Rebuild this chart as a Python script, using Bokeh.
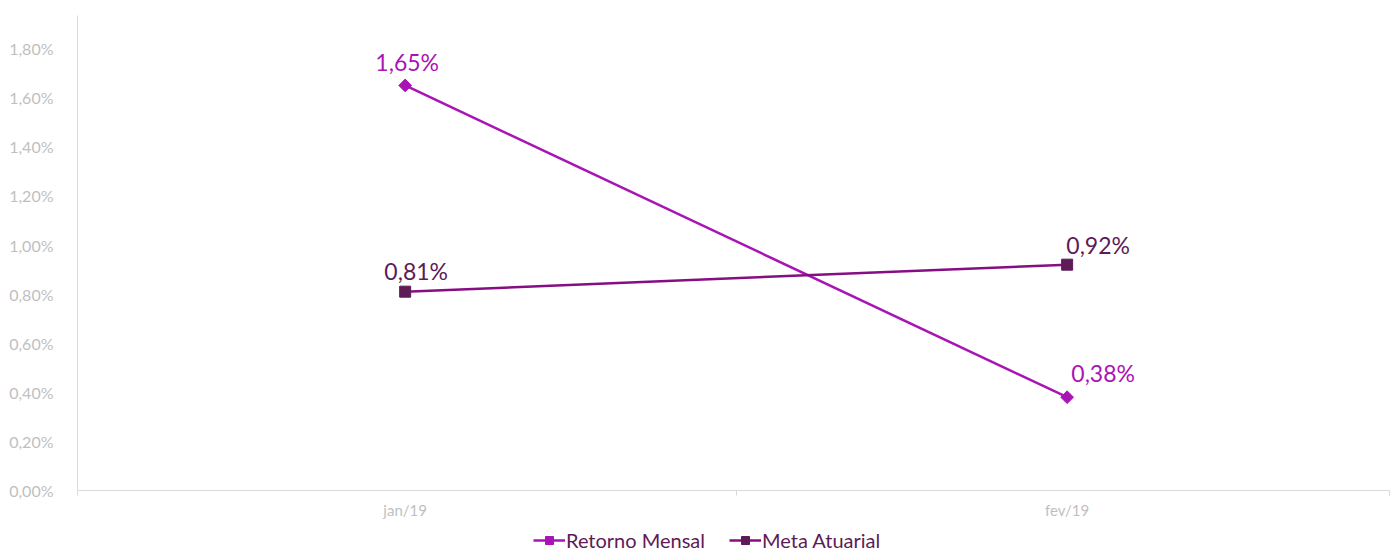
from bokeh.plotting import figure
from bokeh.layouts import column
from bokeh.models import ColumnDataSource, FixedTicker, Range1d, Legend, LegendItem, CustomJSTickFormatter
from bokeh.core.properties import value
from bokeh.embed import file_html
from bokeh.resources import INLINE

categories = ["jan/19", "fev/19"]
retorno = [1.65, 0.38]
meta = [0.81, 0.92]
retorno_labels = ["1,65%", "0,38%"]
meta_labels = ["0,81%", "0,92%"]
series_names = ["Retorno Mensal", "Meta Atuarial"]
y_ticks = [0.0, 0.2, 0.4, 0.6, 0.8, 1.0, 1.2, 1.4, 1.6, 1.8]

xs = [0.5, 1.5]
C_RET = "#A914B5"
C_META_LINE = "#860E82"
C_META_MK = "#5E1B56"
C_TEXT = "#5E1B56"

p = figure(width=1390, height=522, output_backend="svg", toolbar_location=None,
           x_range=Range1d(0.005, 1.987), y_range=Range1d(0, 1.935),
           min_border_left=77, min_border_right=1, min_border_top=15, min_border_bottom=32)
p.outline_line_color = None
p.xgrid.visible = False
p.ygrid.visible = False

src_r = ColumnDataSource(dict(x=xs, y=retorno, t=retorno_labels, dx=[2, 36], dy=[-23, -24]))
src_m = ColumnDataSource(dict(x=xs, y=meta, t=meta_labels, dx=[11, 31], dy=[-21, -20]))

ret_line = dict(line_color=C_RET, line_width=2.5)
ret_mk = dict(marker="square", angle=0.785, size=9, fill_color=C_RET, line_color=C_RET)
meta_line = dict(line_color=C_META_LINE, line_width=2.5)
meta_mk = dict(marker="square", size=11, fill_color=C_META_MK, line_color=C_META_MK)

p.line("x", "y", source=src_r, **ret_line)
p.scatter("x", "y", source=src_r, **ret_mk)
p.line("x", "y", source=src_m, **meta_line)
p.scatter("x", "y", source=src_m, **meta_mk)

p.text("x", "y", text="t", source=src_r, x_offset="dx", y_offset="dy", text_color=C_RET,
       text_font=value("Lato"), text_font_size="23px", text_align="center", text_baseline="middle")
p.text("x", "y", text="t", source=src_m, x_offset="dx", y_offset="dy", text_color=C_TEXT,
       text_font=value("Lato"), text_font_size="23px", text_align="center", text_baseline="middle")

# y axis
p.yaxis.ticker = FixedTicker(ticks=y_ticks)
p.yaxis.formatter = CustomJSTickFormatter(code="return tick.toFixed(2).replace('.', ',') + '%';")
p.yaxis.axis_line_color = "#D9D9D9"
p.yaxis.major_tick_line_color = None
p.yaxis.minor_tick_line_color = None
p.yaxis.major_label_text_color = "#BFBFBF"
p.yaxis.major_label_text_font = "Lato"
p.yaxis.major_label_text_font_size = "16px"
p.yaxis.major_label_standoff = 18

# x axis
p.xaxis.ticker = FixedTicker(ticks=xs, minor_ticks=[0.005, 1, 1.987])
p.xaxis.major_label_overrides = {xs[i]: categories[i] for i in range(len(categories))}
p.xaxis.axis_line_color = "#D9D9D9"
p.xaxis.major_tick_line_color = None
p.xaxis.minor_tick_line_color = "#D9D9D9"
p.xaxis.minor_tick_out = 5
p.xaxis.minor_tick_in = 0
p.xaxis.major_label_text_color = "#BFBFBF"
p.xaxis.major_label_text_font = "Lato"
p.xaxis.major_label_text_font_size = "15px"
p.xaxis.major_label_standoff = 4

# legend strip below the chart (its ranges keep the series out of view; only the legend shows)
q = figure(width=1390, height=30, output_backend="svg", toolbar_location=None,
           x_range=Range1d(0, 1), y_range=Range1d(10, 11),
           min_border_left=0, min_border_right=0, min_border_top=0, min_border_bottom=0)
q.axis.visible = False
q.grid.visible = False
q.outline_line_color = None
qr1 = q.line("x", "y", source=src_r, **ret_line)
qr2 = q.scatter("x", "y", source=src_r, **ret_mk)
qm1 = q.line("x", "y", source=src_m, **meta_line)
qm2 = q.scatter("x", "y", source=src_m, **meta_mk)

legend = Legend(items=[LegendItem(label=series_names[0], renderers=[qr1, qr2]),
                       LegendItem(label=series_names[1], renderers=[qm1, qm2])],
                orientation="horizontal", location=(456, 0),
                label_text_font="Lato", label_text_font_size="20px", label_text_color=C_TEXT,
                border_line_color=None, background_fill_alpha=0,
                glyph_width=32, glyph_height=20, label_standoff=1, spacing=24, padding=0, margin=0)
q.add_layout(legend, "center")

layout = column(p, q, spacing=0)
open("out.html", "w").write(file_html(layout, INLINE))
